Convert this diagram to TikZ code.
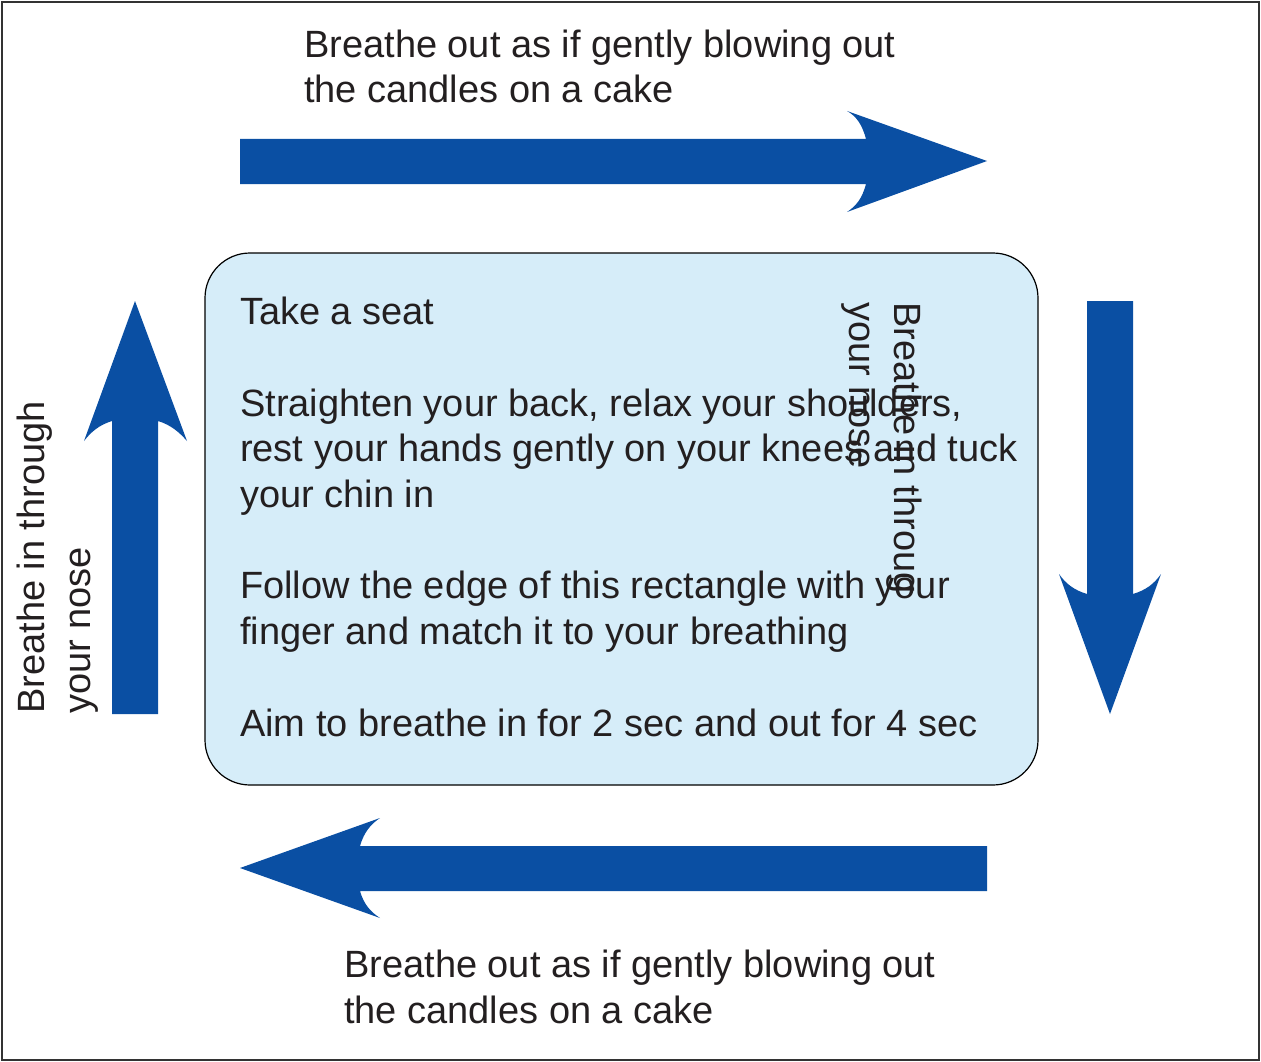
\documentclass[tikz,border=0pt]{standalone}
\usepackage{fontspec}
\setmainfont{Liberation Sans}
\definecolor{arrowblue}{HTML}{0A4FA3}
\definecolor{cardblue}{HTML}{D6EDF9}
\definecolor{inkgrey}{HTML}{231F20}
\definecolor{framegrey}{HTML}{333333}
\begin{document}
\begin{tikzpicture}[x=1pt,y=-1pt,
    bluearrow/.style={fill=arrowblue},
    words/.style={font=\fontsize{38}{45.7}\selectfont, text=inkgrey, inner sep=0pt, align=left}]
        \useasboundingbox (0,0) rectangle (1261,1062);
        % Frame
        \draw[framegrey, line width=2.2pt] (2,2) rectangle (1259,1060);

        % Card
        \draw[fill=cardblue, line width=1.2pt, rounded corners=45pt] (205,253) rectangle (1038,785);

        % Top arrow
        \fill[bluearrow] (240,139) -- (866,139) .. controls (862,124) and (856,116) .. (847,111)
            -- (987,161) -- (847,212) .. controls (856,206) and (862,199) .. (866,184) -- (240,184) -- cycle;
        % Right arrow
        \fill[bluearrow] (1087,301) -- (1133,301) -- (1133,594) .. controls (1146,590) and (1154,584) .. (1161,574)
            -- (1110,714) -- (1059,574) .. controls (1066,584) and (1074,590) .. (1087,594) -- cycle;
        % Bottom arrow
        \fill[bluearrow] (987,846) -- (360,846) .. controls (364,832) and (371,824) .. (380,818)
            -- (240,868) -- (380,918) .. controls (371,912) and (364,905) .. (360,891) -- (987,891) -- cycle;
        % Left arrow
        \fill[bluearrow] (112,714) -- (112,421) .. controls (99,425) and (91,432) .. (84,441)
            -- (135,301) -- (187,441) .. controls (179,432) and (171,425) .. (158,421) -- (158,714) -- cycle;

        % Labels (base = baseline of the last line)
        \node[words, anchor=base west] (outtop) at (304,103) {Breathe out as if gently blowing out\\the candles on a cake};
        \node[words, anchor=base west] (outbottom) at (344,1023) {Breathe out as if gently blowing out\\the candles on a cake};
        \node[words, anchor=base west, rotate=90] (inleft) at (90,714) {Breathe in through\\your nose};
        \node[words, anchor=base west, rotate=-90] (inright) at (849,302) {Breathe in throug\\your nose};

        % Steps on the card
        \node[words, anchor=base west] (steps) at (240,736) {Take a seat\\[45.7pt]
            Straighten your back, relax your shoulders,\\rest your hands gently on your knees and tuck\\your chin in\\[45.7pt]
            Follow the edge of this rectangle with your\\finger and match it to your breathing\\[45.7pt]
            Aim to breathe in for 2 sec and out for 4 sec};
\end{tikzpicture}
\end{document}
